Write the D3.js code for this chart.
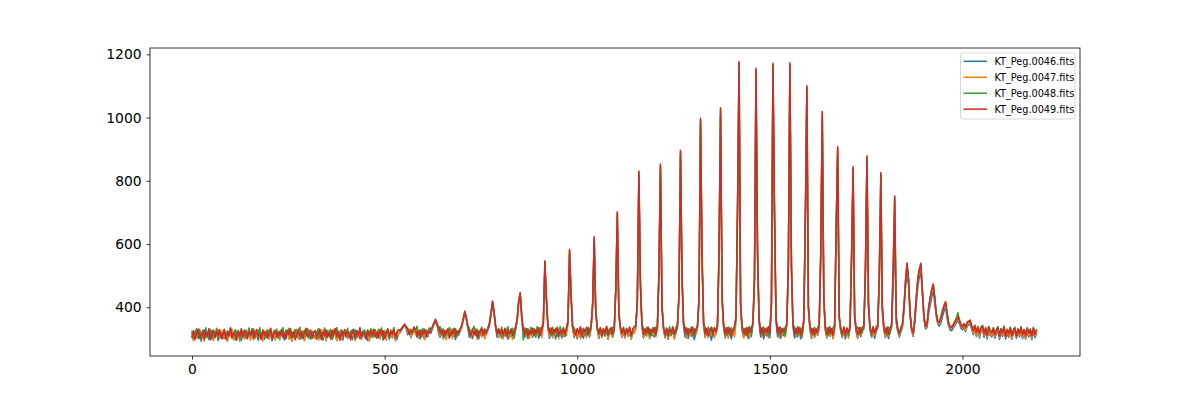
<!DOCTYPE html>
<html>
<head>
<meta charset="utf-8">
<script src="https://cdn.jsdelivr.net/npm/d3@7"></script>
<style>
  html, body { margin: 0; padding: 0; background: #fff; }
  svg { display: block; font-family: "DejaVu Sans", sans-serif; }
</style>
</head>
<body>
<svg id="chart" width="1200" height="400"></svg>
<script>
const channelStart = 0, channelStep = 4, channelEnd = 2192;

const flux0046 = [
  318,296,312,327,301,320,293,315,329,305,322,298,316,326,300,313,324,295,319,308,
  300,323,309,293,318,328,304,315,297,325,310,320,295,317,328,302,312,322,299,316,
  325,303,318,296,321,309,327,299,314,324,302,319,294,311,327,305,320,298,316,310,
  297,316,324,303,312,293,320,328,306,317,299,323,309,296,318,326,301,314,321,304,
  313,299,321,308,326,296,317,302,324,310,327,298,312,320,303,325,309,318,297,322,
  320,302,311,325,297,316,328,304,319,300,314,326,306,322,295,318,303,327,310,315,
  302,324,309,318,296,321,313,327,299,316,304,322,311,298,317,320,328,336,342,333,
  313,326,304,318,334,322,305,319,300,323,310,298,321,307,325,318,331,345,356,344,
  318,305,324,300,319,311,326,302,316,309,322,298,318,312,324,336,357,380,362,334,
  305,322,301,320,312,328,300,317,309,325,303,320,327,342,372,410,378,336,305,321,
  324,303,320,310,327,299,316,307,325,302,329,355,410,436,364,323,305,325,301,318,
  326,305,321,309,328,302,319,324,345,530,418,333,302,326,307,323,300,329,311,318,
  303,327,308,322,349,565,428,331,304,324,300,320,313,327,302,322,309,326,306,332,
  405,605,382,329,302,325,306,321,310,328,299,319,323,305,326,446,680,374,330,305,
  322,303,326,308,320,300,317,323,333,415,805,465,337,303,324,309,327,301,320,311,
  307,325,331,498,830,395,329,303,324,299,321,310,327,302,318,334,428,875,485,340,
  305,327,301,322,309,326,298,320,332,415,975,548,342,304,325,307,322,296,318,310,
  315,337,558,1008,420,334,303,326,306,320,300,324,312,358,690,1150,400,327,305,323,
  326,301,322,308,344,478,1130,560,351,306,324,300,321,309,327,304,400,1145,690,353,
  307,326,302,321,310,327,340,524,1148,518,338,303,323,307,326,300,318,352,657,1075,
  393,330,302,325,306,322,311,337,553,992,418,326,303,324,308,327,301,332,628,880,
  362,323,304,327,300,321,310,332,540,815,366,322,301,325,307,328,332,500,840,395,
  328,305,327,302,322,334,470,729,380,326,304,325,301,323,337,470,636,350,323,305,
  322,335,385,460,505,470,370,325,308,350,410,465,495,512,440,362,332,336,380,405,
  432,455,412,370,346,340,352,370,388,402,366,340,328,326,334,342,350,358,348,334,
  329,336,323,340,344,348,330,314,331,308,326,303,323,330,305,322,300,324,311,306,
  321,303,316,327,298,319,308,325,300,317,305,323,299,316,324,302,321,307,318,301,
  316,300,322,306,319,298,323,304,315
];

const flux0047 = [
  310,294,325,304,318,331,299,313,292,321,307,328,300,316,295,323,309,330,302,317,
  326,301,315,293,322,309,331,297,318,305,327,292,314,324,300,319,306,329,296,313,
  297,318,307,328,302,316,293,325,311,330,299,320,305,327,296,314,323,301,319,308,
  322,306,329,298,315,292,324,310,331,300,317,304,326,295,319,312,328,299,316,305,
  301,324,296,317,329,305,320,293,314,327,302,318,331,307,294,323,310,297,325,313,
  328,303,319,296,325,310,294,322,306,330,298,316,327,301,320,293,318,329,304,311,
  315,331,299,322,306,327,295,318,310,329,302,320,293,324,313,323,331,338,344,336,
  319,331,306,325,333,313,329,301,322,309,327,298,318,312,330,326,335,347,359,346,
  322,312,331,303,320,297,326,309,333,300,317,328,306,322,325,339,360,384,365,337,
  329,303,323,311,333,299,320,326,306,330,300,323,330,345,376,415,382,339,327,304,
  307,330,300,325,312,333,303,321,298,329,333,358,415,441,368,326,330,308,327,301,
  330,310,333,305,324,315,336,304,348,538,425,336,309,331,303,326,314,334,300,322,
  327,307,329,311,352,575,435,334,307,330,304,325,300,333,312,328,303,331,309,336,
  410,615,386,332,306,329,303,331,312,338,301,326,332,308,330,452,692,378,333,306,
  328,305,333,311,326,300,330,318,336,421,820,471,341,304,329,310,334,302,327,313,
  331,306,334,505,845,400,332,305,329,301,326,313,335,299,324,338,435,890,492,344,
  329,302,326,310,334,305,323,314,336,421,990,556,346,306,330,303,327,312,335,304,
  319,341,567,1022,427,338,307,331,302,335,311,329,306,363,701,1168,406,331,303,329,
  309,333,303,327,348,486,1148,569,356,330,305,328,311,334,303,326,406,1163,700,358,
  330,304,328,310,333,306,344,532,1165,525,342,330,306,327,312,335,303,356,668,1093,
  399,334,306,329,303,328,312,341,562,1010,425,330,305,333,309,326,302,336,640,900,
  368,327,305,331,309,334,302,336,553,836,373,326,303,330,312,327,336,513,870,404,
  332,306,330,311,328,338,495,815,396,330,305,334,309,327,341,510,740,364,327,308,
  327,341,395,475,530,484,376,328,312,356,425,484,514,530,445,366,336,341,393,422,
  449,468,425,376,351,348,364,384,400,412,377,346,334,333,340,348,356,365,354,339,
  334,341,327,346,350,355,336,318,337,313,331,308,328,335,311,327,305,329,316,309,
  326,308,321,331,303,324,312,330,305,322,309,328,301,320,329,306,325,311,323,304,
  320,305,327,311,324,302,328,309,320
];

const flux0048 = [
  324,302,317,333,308,328,298,321,312,335,304,319,330,300,325,311,334,306,322,315,
  309,331,301,326,316,336,303,320,329,307,323,298,332,313,327,305,318,335,310,324,
  332,307,323,313,336,300,327,318,304,329,311,334,306,322,317,331,302,325,314,336,
  305,328,316,334,302,321,311,330,307,325,337,303,319,327,309,333,315,300,324,318,
  327,310,333,301,320,315,335,306,326,312,331,299,323,317,336,304,322,329,308,319,
  314,334,304,323,317,331,300,327,313,336,308,321,328,303,326,318,333,306,320,329,
  306,327,319,335,301,324,314,331,308,326,320,336,302,322,330,327,334,341,346,339,
  334,318,331,315,337,327,340,312,329,306,333,316,328,322,335,330,338,351,361,350,
  327,339,314,332,305,328,321,336,310,330,317,333,308,326,330,343,364,386,369,341,
  335,317,329,340,313,331,308,326,337,315,332,322,335,350,383,418,388,344,316,333,
  320,338,309,331,324,339,312,328,334,306,338,364,422,444,374,297,335,316,333,313,
  337,318,332,306,339,314,328,336,354,544,428,342,331,311,337,320,334,308,329,339,
  314,333,309,338,358,580,438,340,336,310,331,319,338,306,334,325,312,337,316,342,
  413,620,391,338,315,336,319,333,309,340,322,331,314,337,335,458,698,384,339,317,
  338,311,334,319,336,308,331,340,342,428,826,478,347,334,312,337,318,333,310,336,
  318,337,340,511,848,406,338,310,335,321,339,312,333,318,337,344,440,892,496,350,
  336,313,333,319,338,310,332,321,342,428,993,560,352,335,313,338,320,333,309,337,
  325,347,573,1026,433,344,332,311,338,316,335,321,339,369,706,1172,412,337,333,312,
  336,315,339,318,354,493,1150,574,362,334,312,338,320,335,311,337,412,1166,704,364,
  336,312,337,321,334,310,350,538,1168,531,348,336,314,339,318,333,309,362,672,1096,
  405,340,331,313,337,320,335,347,568,1014,430,336,334,311,339,316,336,342,644,903,
  374,333,312,337,319,335,310,342,558,840,379,332,338,314,336,320,342,520,874,410,
  338,312,336,319,339,344,501,822,402,336,334,313,338,317,347,516,748,370,333,314,
  332,347,402,485,540,490,382,334,320,362,432,492,522,540,452,372,342,348,400,430,
  457,472,432,382,357,354,370,390,406,416,383,352,340,339,346,356,366,383,362,346,
  341,348,338,353,357,356,343,331,344,325,340,322,338,343,320,337,316,340,327,321,
  336,318,330,339,313,334,322,341,312,331,320,338,315,329,337,311,333,320,339,316,
  331,314,336,321,332,313,337,318,329
];

const flux0049 = [
  305,326,298,319,331,302,315,327,300,321,309,333,297,318,328,304,322,311,330,301,
  317,329,299,323,308,334,303,320,312,296,325,310,331,305,318,327,300,322,314,332,
  302,320,330,307,316,298,328,312,324,303,319,333,299,315,326,306,321,310,329,304,
  318,300,327,313,332,305,322,297,316,330,309,324,301,319,334,307,313,328,302,320,
  326,303,317,331,298,322,311,329,305,319,300,327,314,333,308,321,296,324,312,330,
  306,323,315,300,329,318,303,326,311,334,304,320,316,299,328,309,325,313,331,307,
  321,304,330,312,326,301,318,332,309,323,314,329,305,320,327,326,333,340,347,338,
  330,314,325,320,338,329,312,326,309,328,315,331,306,324,319,333,338,350,362,349,
  336,318,330,309,327,314,332,305,323,316,334,310,326,318,331,342,363,388,368,340,
  322,310,331,314,327,306,325,318,334,311,328,316,333,348,380,420,386,342,318,330,
  312,329,315,334,308,326,318,331,311,327,338,362,420,447,372,330,314,332,309,327,
  316,334,312,329,320,336,311,331,352,547,430,340,318,335,313,330,321,337,310,328,
  317,336,314,331,356,583,440,338,320,312,333,316,338,309,330,322,337,313,332,340,
  414,623,390,336,318,335,310,332,321,338,312,329,336,315,333,457,702,382,337,318,
  334,314,331,320,338,311,329,336,340,426,831,477,345,315,332,320,338,312,330,322,
  336,313,338,510,853,404,336,316,333,310,330,322,339,314,327,342,439,897,497,348,
  318,335,312,331,321,338,313,332,340,426,998,561,350,316,334,311,329,337,315,332,
  323,345,572,1031,431,342,314,336,318,333,311,330,338,367,708,1177,410,335,317,334,
  312,337,320,331,352,491,1156,574,360,317,336,313,332,320,339,316,410,1172,706,362,
  319,338,314,333,322,336,348,537,1173,530,346,315,334,318,337,312,331,360,674,1101,
  403,338,316,334,313,332,320,345,568,1019,429,334,314,337,318,333,311,340,646,908,
  372,331,316,338,313,334,320,340,559,845,377,330,315,336,318,338,340,519,879,408,
  336,316,339,319,333,342,500,826,400,334,317,338,314,335,345,517,752,368,331,319,
  336,345,400,480,539,488,380,332,318,360,430,490,520,537,450,370,340,345,398,428,
  455,474,430,380,355,352,368,388,404,418,381,350,338,337,344,352,360,370,358,343,
  338,349,336,352,354,360,340,326,342,321,337,318,335,341,316,334,312,338,324,318,
  333,314,327,336,310,331,319,338,308,329,316,335,311,326,334,309,330,317,336,313,
  328,311,333,318,329,310,334,315,326
];

const seriesNames = ["KT_Peg.0046.fits", "KT_Peg.0047.fits", "KT_Peg.0048.fits", "KT_Peg.0049.fits"];
const seriesColors = ["#1f77b4", "#ff7f0e", "#2ca02c", "#d62728"];
const seriesValues = [flux0046, flux0047, flux0048, flux0049];
const xTicks = [0, 500, 1000, 1500, 2000];
const yTicks = [400, 600, 800, 1000, 1200];

// detector pixel index of each sample
const channels = d3.range(channelStart, channelEnd + 1, channelStep);

// ---- layout ----
const axL = 150, axR = 1080, axT = 48, axB = 356;
const svg = d3.select("#chart");

const x = d3.scaleLinear().domain([-109, 2305]).range([axL, axR]);
const y = d3.scaleLinear().domain([246, 1220]).range([axB, axT]);

svg.append("defs").append("clipPath").attr("id", "clip")
  .append("rect").attr("x", axL).attr("y", axT)
  .attr("width", axR - axL).attr("height", axB - axT);

const plot = svg.append("g").attr("clip-path", "url(#clip)");

const line = d3.line()
  .x(d => x(d[0]))
  .y(d => y(d[1]));

seriesValues.forEach((vals, i) => {
  const n = Math.min(vals.length, channels.length);
  const pts = [];
  for (let k = 0; k < n; k++) pts.push([channels[k], vals[k]]);
  plot.append("path")
    .datum(pts)
    .attr("fill", "none")
    .attr("stroke", seriesColors[i])
    .attr("stroke-width", 1.5)
    .attr("stroke-linejoin", "round")
    .attr("stroke-linecap", "square")
    .attr("d", line);
});

// axes
const fontSize = 13.89;
const xAxis = d3.axisBottom(x).tickValues(xTicks).tickSize(3.5).tickPadding(4.9).tickFormat(d3.format("d"));
const yAxis = d3.axisLeft(y).tickValues(yTicks).tickSize(3.5).tickPadding(4.9).tickFormat(d3.format("d"));

const gx = svg.append("g").attr("transform", `translate(0,${axB})`).call(xAxis);
const gy = svg.append("g").attr("transform", `translate(${axL},0)`).call(yAxis);
[gx, gy].forEach(g => {
  g.select(".domain").remove();
  g.selectAll(".tick line").attr("stroke", "#000").attr("stroke-width", 0.8);
  g.selectAll(".tick text").attr("fill", "#000")
    .style("font-family", "'DejaVu Sans', sans-serif")
    .style("font-size", fontSize + "px");
});

// frame (spines)
svg.append("rect")
  .attr("x", axL).attr("y", axT)
  .attr("width", axR - axL).attr("height", axB - axT)
  .attr("fill", "none").attr("stroke", "#000").attr("stroke-width", 0.8);

// legend
const lgFont = 9.7;
const lgX = 960.5, lgY = 53, lgW = 114.5, lgH = 66;
const lg = svg.append("g");
lg.append("rect")
  .attr("x", lgX).attr("y", lgY).attr("width", lgW).attr("height", lgH)
  .attr("rx", 2.5).attr("ry", 2.5)
  .attr("fill", "#fff").attr("fill-opacity", 0.8)
  .attr("stroke", "#cccccc").attr("stroke-width", 0.8);
seriesNames.forEach((name, i) => {
  const cy = 61.3 + i * 15.95;
  lg.append("line")
    .attr("x1", 963.5).attr("x2", 987).attr("y1", cy).attr("y2", cy)
    .attr("stroke", seriesColors[i]).attr("stroke-width", 1.5);
  lg.append("text")
    .attr("x", 994.5).attr("y", cy).attr("dy", "0.36em")
    .style("font-size", lgFont + "px")
    .style("font-family", "'DejaVu Sans', sans-serif")
    .attr("fill", "#000")
    .text(name);
});
</script>
</body>
</html>
